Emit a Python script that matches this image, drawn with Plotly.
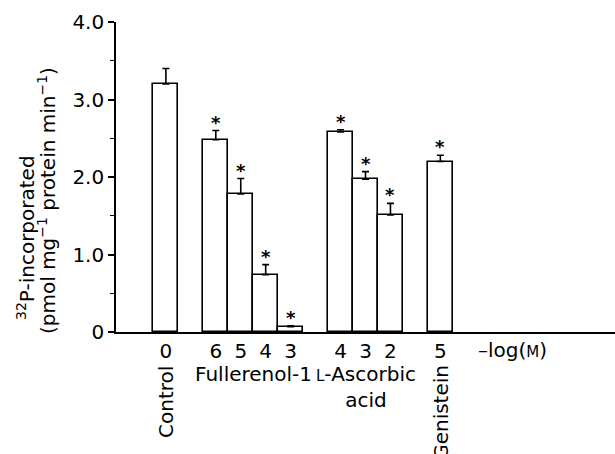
import plotly.graph_objects as go

# ---- data ----
bar_labels = ["Control 0", "Fullerenol-1 6", "Fullerenol-1 5", "Fullerenol-1 4", "Fullerenol-1 3",
              "L-Ascorbic acid 4", "L-Ascorbic acid 3", "L-Ascorbic acid 2", "Genistein 5"]
dose_labels = ["0", "6", "5", "4", "3", "4", "3", "2", "5"]
bar_pos = [0, 2, 3, 4, 5, 7, 8, 9, 11]
values = [3.20, 2.48, 1.78, 0.74, 0.07, 2.58, 1.97, 1.51, 2.20]
errors = [0.20, 0.12, 0.20, 0.13, 0.01, 0.03, 0.10, 0.15, 0.08]
significant = [False, True, True, True, True, True, True, True, True]
y_tickvals = [0, 1, 2, 3, 4]
y_ticktext = ["0", "1.0", "2.0", "3.0", "4.0"]

FONT = "DejaVu Sans, Arial, sans-serif"
fs = 20

fig = go.Figure()
fig.add_trace(go.Bar(
    x=bar_pos, y=values, width=1,
    marker=dict(color="white", line=dict(color="black", width=1.6)),
    error_y=dict(type="data", array=errors, arrayminus=[0]*len(errors), symmetric=False,
                 color="black", thickness=1.6, width=3.5),
    hovertext=bar_labels, showlegend=False,
))

annotations = []
for x, v, e, s in zip(bar_pos, values, errors, significant):
    if s:
        annotations.append(dict(x=x, y=v + e, xref="x", yref="y", text="<b>*</b>", showarrow=False,
                                yanchor="bottom", yshift=-4,
                                font=dict(family=FONT, size=18, color="black")))

def lab(text, x, yshift, angle=0, xanchor="center", yanchor="top"):
    annotations.append(dict(x=x, y=0, xref="x", yref="paper", text=text, showarrow=False,
                            textangle=angle, xanchor=xanchor, yanchor=yanchor, yshift=yshift,
                            font=dict(family=FONT, size=fs, color="black")))

lab("Control", 0, -32, angle=-90)
lab("Fullerenol-1", 3.5, -28)
lab("<span style='font-size:15px'>L</span>-Ascorbic<br>acid", 8.0, -28)
lab("Genistein", 11, -31, angle=-90)
lab("–log(<span style='font-size:15px'>M</span>)", 13.9, -4)

# y-axis title as two rotated lines
annotations.append(dict(x=0, y=0.5, xref="paper", yref="paper", xanchor="center", yanchor="middle",
                        xshift=-90, yshift=-61, textangle=-90, showarrow=False,
                        text="<sup>32</sup>P-incorporated",
                        font=dict(family=FONT, size=fs, color="black")))
annotations.append(dict(x=0, y=0.5, xref="paper", yref="paper", xanchor="center", yanchor="middle",
                        xshift=-69, yshift=-24, textangle=-90, showarrow=False,
                        text="(pmol mg<sup>−1</sup> protein min<sup>−1</sup>)",
                        font=dict(family=FONT, size=fs, color="black")))

fig.update_layout(
    width=615, height=454,
    margin=dict(l=116, r=0, t=22, b=122),
    plot_bgcolor="white", paper_bgcolor="white",
    font=dict(family=FONT, size=fs, color="black"),
    bargap=0,
    annotations=annotations,
    xaxis=dict(range=[-2, 18], showline=True, linecolor="black", linewidth=1.6,
               tickvals=bar_pos, ticktext=dose_labels, ticks="", showgrid=False, zeroline=False,
               tickfont=dict(family=FONT, size=fs)),
    yaxis=dict(range=[0, 4], showline=True, linecolor="black", linewidth=1.6,
               tickvals=y_tickvals, ticktext=y_ticktext, ticks="outside", ticklen=6, tickwidth=1.6,
               tickcolor="black", showgrid=False, zeroline=False,
               minor=dict(dtick=0.5, tick0=0, ticks="outside", ticklen=4, tickwidth=1.4, tickcolor="black", showgrid=False),
               tickfont=dict(family=FONT, size=fs)),
)

fig.write_html("out.html")
